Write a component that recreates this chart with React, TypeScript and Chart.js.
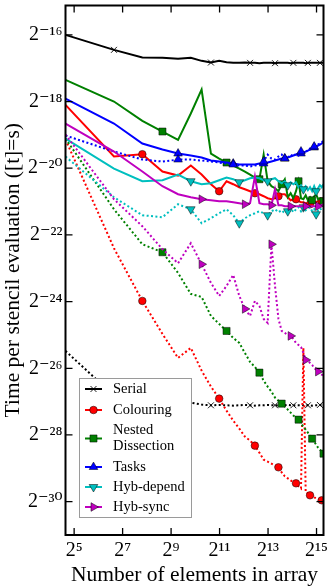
import React, { useEffect, useRef } from 'react';
import { Chart, registerables } from 'chart.js';

Chart.register(...registerables);

// Number of elements in the array (x values)
const elementCounts = [
  25, 100, 225, 400, 625, 900, 1225, 1600, 2025, 2500, 3025, 3600, 4225, 4900, 5625, 6400,
  7225, 8100, 9025, 10000, 11025, 12100, 13225, 14400, 15625, 16900, 18225, 19600, 21025,
  22500, 24025, 25600, 27225, 28900, 30625, 32400, 34225, 36100, 38025, 40000,
];

// Tick exponents (powers of two)
const xTickExponents = [5, 7, 9, 11, 13, 15];
const yTickExponents = [-16, -18, -20, -22, -24, -26, -28, -30];

const seriesNames = ['Serial', 'Colouring', 'Nested Dissection', 'Tasks', 'Hyb-depend', 'Hyb-sync'];

// Time per stencil evaluation, stored as log2(seconds); solid and dotted variants
const serialSolid = [
  -16.0, -16.45, -16.68, -16.69, -16.72, -16.69, -16.78, -16.83, -16.78, -16.82, -16.84, -16.84,
  -16.83, -16.84, -16.84, -16.85, -16.84, -16.84, -16.84, -16.85, -16.84, -16.84, -16.84, -16.84,
  -16.85, -16.84, -16.84, -16.84, -16.84, -16.84, -16.85, -16.84, -16.84, -16.84, -16.84, -16.84,
  -16.84, -16.84, -16.84, -16.84,
];
const serialDotted = [
  -25.48, -26.82, -27.0, -27.03, -27.06, -27.03, -27.09, -27.11, -27.1, -27.11, -27.12, -27.11,
  -27.1, -27.11, -27.12, -27.11, -27.11, -27.1, -27.11, -27.11, -27.12, -27.11, -27.11, -27.1,
  -27.11, -27.11, -27.12, -27.11, -27.11, -27.11, -27.1, -27.11, -27.11, -27.12, -27.11, -27.11,
  -27.11, -27.1, -27.11, -27.11,
];
const colouringSolid = [
  -18.1, -19.65, -19.58, -20.1, -20.22, -19.92, -20.19, -20.48, -20.69, -20.39, -20.48, -20.57,
  -20.63, -20.69, -20.75, -20.78, -20.84, -20.9, -20.93, -20.9, -20.84, -20.78, -20.78, -20.87,
  -20.96, -20.93, -20.93, -20.99, -21.02, -21.02, -21.05, -21.08, -21.08, -21.05, -21.02, -21.02,
  -20.99, -21.02, -20.99, -20.99,
];
const colouringDotted = [
  -19.14, -22.4, -23.98, -24.97, -25.69, -25.39, -26.07, -26.55, -26.91, -27.27, -27.57, -27.81,
  -28.05, -28.17, -28.32, -28.53, -28.74, -28.8, -28.86, -28.92, -28.97, -29.12, -29.24, -29.3,
  -29.36, -29.42, -29.45, -29.54, -29.6, -25.39, -29.72, -29.75, -29.81, -29.84, -29.87, -29.9,
  -29.93, -29.96, -29.96, -29.99,
];
const nestedSolid = [
  -17.35, -18.0, -18.58, -18.9, -19.15, -18.36, -17.64, -19.56, -19.71, -19.83, -19.92, -20.01,
  -20.1, -20.19, -20.28, -20.33, -19.59, -20.39, -20.54, -20.6, -20.69, -20.48, -20.33, -20.87,
  -20.75, -20.9, -20.69, -20.39, -20.9, -20.93, -20.81, -20.96, -20.87, -20.96, -20.84, -20.78,
  -20.93, -20.9, -20.96, -20.99,
];
const nestedDotted = [
  -19.11, -21.23, -22.28, -22.52, -23.14, -23.77, -23.86, -24.43, -24.67, -24.88, -25.09, -25.24,
  -25.54, -25.81, -25.96, -26.13, -26.37, -26.55, -26.7, -26.88, -26.97, -27.06, -27.15, -27.24,
  -27.33, -27.42, -27.48, -27.54, -27.66, -27.75, -27.84, -27.93, -28.02, -28.11, -28.2, -28.29,
  -28.38, -28.44, -28.5, -28.56,
];
const tasksSolid = [
  -17.91, -18.66, -19.26, -19.44, -19.56, -19.62, -19.68, -19.77, -19.8, -19.83, -19.86, -19.89,
  -19.89, -19.89, -19.89, -19.86, -19.86, -19.83, -19.8, -19.77, -19.74, -19.71, -19.71, -19.68,
  -19.65, -19.62, -19.59, -19.56, -19.56, -19.53, -19.5, -19.47, -19.44, -19.41, -19.38, -19.35,
  -19.32, -19.29, -19.26, -19.2,
];
const tasksDotted = [
  -19.02, -19.5, -19.74, -19.8, -19.74, -19.74, -19.77, -19.8, -19.83, -19.86, -19.89, -19.92,
  -19.92, -19.95, -19.92, -19.89, -19.8, -19.59, -19.71, -19.74, -19.65, -19.59, -19.71, -19.68,
  -19.59, -19.65, -19.56, -19.62, -19.5, -19.56, -19.47, -19.5, -19.41, -19.44, -19.35, -19.38,
  -19.29, -19.26, -19.23, -19.17,
];
const hybDependSolid = [
  -19.11, -20.01, -20.39, -20.36, -20.19, -20.39, -20.48, -20.45, -20.36, -20.28, -20.33, -20.42,
  -20.36, -20.3, -20.28, -20.3, -20.36, -20.39, -20.33, -20.3, -20.39, -20.45, -20.39, -20.51,
  -20.42, -20.48, -20.42, -20.57, -20.51, -20.63, -20.54, -20.66, -20.57, -20.69, -20.54, -20.69,
  -20.6, -20.51, -20.57, -20.48,
];
const hybDependDotted = [
  -19.65, -20.87, -21.41, -21.47, -21.08, -21.23, -21.65, -21.5, -21.35, -21.23, -21.41, -21.65,
  -21.5, -21.41, -21.35, -21.29, -21.35, -21.41, -21.29, -21.23, -21.32, -21.26, -21.35, -21.29,
  -21.2, -21.32, -21.23, -21.17, -21.29, -21.17, -21.26, -21.2, -21.17, -21.29, -21.23, -21.38,
  -21.26, -21.2, -21.26, -21.23,
];
const hybSyncSolid = [
  -18.66, -19.5, -20.1, -20.54, -20.78, -20.87, -20.93, -20.96, -20.99, -20.99, -21.02, -21.05,
  -21.08, -21.05, -20.25, -21.05, -21.08, -21.08, -21.11, -20.63, -21.11, -21.11, -21.14, -21.14,
  -21.14, -21.14, -21.14, -21.14, -21.14, -21.14, -21.14, -21.14, -21.14, -21.14, -21.14, -21.14,
  -21.14, -21.11, -21.11, -21.08,
];
const hybSyncDotted = [
  -18.99, -20.93, -21.74, -22.43, -22.85, -22.25, -22.88, -23.44, -23.83, -23.53, -23.2, -23.83,
  -24.22, -24.43, -23.98, -24.13, -24.52, -24.64, -22.28, -23.53, -24.52, -24.88, -24.94, -25.0,
  -25.03, -25.12, -25.24, -25.3, -25.36, -25.54, -25.75, -25.78, -25.84, -25.9, -25.99, -26.04,
  -26.1, -26.16, -26.19, -26.22,
];

const SERIF = '"Liberation Serif", "DejaVu Serif", serif';

const SUP: Record<string, string> = {
  '0': '\u2070', '1': '\u00B9', '2': '\u00B2', '3': '\u00B3', '4': '\u2074',
  '5': '\u2075', '6': '\u2076', '7': '\u2077', '8': '\u2078', '9': '\u2079', '-': '\u207B',
};
const powLabel = (e: number) => '2' + String(e).split('').map((c) => SUP[c] || c).join('');

type Series = {
  label: string; color: string; style: string; rot: number; r: number;
  solid: number[]; dotted: number[];
};

function drawMarker(ctx: CanvasRenderingContext2D, s: Series, x: number, y: number) {
  ctx.save();
  ctx.translate(x, y);
  ctx.fillStyle = s.color;
  ctx.strokeStyle = '#000';
  ctx.lineWidth = s.style === 'crossRot' ? 0.9 : 0.5;
  ctx.beginPath();
  const r = s.r;
  if (s.style === 'circle') {
    ctx.arc(0, 0, r, 0, Math.PI * 2);
    ctx.fill(); ctx.stroke();
  } else if (s.style === 'rect') {
    const h = r * Math.SQRT1_2;
    ctx.rect(-h, -h, 2 * h, 2 * h);
    ctx.fill(); ctx.stroke();
  } else if (s.style === 'triangle') {
    let a = (s.rot * Math.PI) / 180;
    ctx.moveTo(Math.sin(a) * r, -Math.cos(a) * r);
    a += (2 * Math.PI) / 3;
    ctx.lineTo(Math.sin(a) * r, -Math.cos(a) * r);
    a += (2 * Math.PI) / 3;
    ctx.lineTo(Math.sin(a) * r, -Math.cos(a) * r);
    ctx.closePath();
    ctx.fill(); ctx.stroke();
  } else {
    const d = r * Math.SQRT1_2;
    ctx.moveTo(-d, -d); ctx.lineTo(d, d);
    ctx.moveTo(-d, d); ctx.lineTo(d, -d);
    ctx.stroke();
  }
  ctx.restore();
}

export default function App() {
  const ref = useRef<HTMLCanvasElement>(null);

  useEffect(() => {
    if (!ref.current) return;
    const series: Series[] = [
      { label: seriesNames[0], color: '#000000', style: 'crossRot', rot: 0, r: 4.2, solid: serialSolid, dotted: serialDotted },
      { label: seriesNames[1], color: '#ff0000', style: 'circle', rot: 0, r: 3.8, solid: colouringSolid, dotted: colouringDotted },
      { label: seriesNames[2], color: '#008000', style: 'rect', rot: 0, r: 5, solid: nestedSolid, dotted: nestedDotted },
      { label: seriesNames[3], color: '#0000ff', style: 'triangle', rot: 0, r: 5, solid: tasksSolid, dotted: tasksDotted },
      { label: seriesNames[4], color: '#00bfbf', style: 'triangle', rot: 180, r: 5, solid: hybDependSolid, dotted: hybDependDotted },
      { label: seriesNames[5], color: '#bf00bf', style: 'triangle', rot: 90, r: 5, solid: hybSyncSolid, dotted: hybSyncDotted },
    ];

    const datasets: any[] = [];
    series.forEach((s, i) => {
      const start = i + 1;
      [s.solid, s.dotted].forEach((vals, d) => {
        const radius = (c: any) => {
          const j = c.dataIndex;
          return j >= start && (j - start) % 6 === 0 ? s.r : 0;
        };
        datasets.push({
          label: s.label + (d ? ' (dotted)' : ''),
          data: vals.map((v, j) => ({ x: elementCounts[j], y: Math.pow(2, v) })),
          borderColor: s.color,
          backgroundColor: s.color,
          borderWidth: 2,
          borderDash: d ? [2, 2.4] : [],
          pointStyle: s.style,
          pointRotation: s.rot,
          pointRadius: radius,
          pointHoverRadius: radius,
          pointBackgroundColor: s.color,
          pointBorderColor: '#000',
          pointBorderWidth: s.style === 'crossRot' ? 0.9 : 0.5,
          tension: 0,
          clip: 0,
          order: 100 - datasets.length,
        });
      });
    });

    const framePlugin = {
      id: 'frameTicks',
      afterDatasetsDraw(chart: any) {
        const { ctx, chartArea } = chart;
        const { left, right, top, bottom } = chartArea;
        const xs = chart.scales.x;
        const ys = chart.scales.y;
        ctx.save();
        ctx.strokeStyle = '#000';
        ctx.lineWidth = 1.3;
        ctx.beginPath();
        xs.ticks.forEach((t: any) => {
          const px = xs.getPixelForValue(t.value);
          ctx.moveTo(px, bottom); ctx.lineTo(px, bottom - 7);
          ctx.moveTo(px, top); ctx.lineTo(px, top + 7);
        });
        ys.ticks.forEach((t: any) => {
          const py = ys.getPixelForValue(t.value);
          ctx.moveTo(left, py); ctx.lineTo(left + 7, py);
          ctx.moveTo(right, py); ctx.lineTo(right - 7, py);
        });
        ctx.stroke();
        ctx.lineWidth = 2;
        ctx.strokeRect(left, top, right - left, bottom - top);
        ctx.restore();
      },
    };

    const legendRows = [389, 410, 438.5, 467, 487, 507];
    const legendPlugin = {
      id: 'boxLegend',
      afterDraw(chart: any) {
        const ctx: CanvasRenderingContext2D = chart.ctx;
        ctx.save();
        ctx.fillStyle = '#ffffff';
        ctx.strokeStyle = '#9a9a9a';
        ctx.lineWidth = 1;
        ctx.fillRect(79.5, 378.5, 112, 139);
        ctx.strokeRect(79.5, 378.5, 112, 139);
        ctx.font = `14.5px ${SERIF}`;
        ctx.textBaseline = 'middle';
        ctx.textAlign = 'left';
        series.forEach((s, i) => {
          const y = legendRows[i];
          ctx.strokeStyle = s.color;
          ctx.lineWidth = 2;
          ctx.beginPath();
          ctx.moveTo(85, y); ctx.lineTo(102, y);
          ctx.stroke();
          drawMarker(ctx, s, 93.5, y);
          ctx.fillStyle = '#000';
          const lines = s.label.split(' ');
          lines.forEach((ln, k) => {
            ctx.fillText(ln, 113, y + (k - (lines.length - 1) / 2) * 16);
          });
        });
        ctx.restore();
      },
    };

    const chart = new Chart(ref.current, {
      type: 'line',
      data: { datasets },
      plugins: [framePlugin, legendPlugin],
      options: {
        animation: false,
        responsive: false,
        events: [],
        layout: { padding: { top: 3, right: 8.5, left: 0, bottom: 0 } },
        plugins: { legend: { display: false }, tooltip: { enabled: false } },
        scales: {
          x: {
            type: 'logarithmic',
            min: 25,
            max: 40000,
            afterBuildTicks: (sc: any) => {
              sc.ticks = xTickExponents.map((e) => ({ value: Math.pow(2, e) }));
            },
            afterFit: (sc: any) => {
              sc.height = 53;
              sc.paddingLeft = 0;
              sc.paddingRight = 0;
            },
            grid: { display: false, drawTicks: false },
            border: { display: false },
            ticks: {
              autoSkip: false,
              maxRotation: 0,
              minRotation: 0,
              padding: 4,
              color: '#000',
              font: { family: SERIF, size: 20 },
              callback: (v: any) => powLabel(Math.round(Math.log2(Number(v)))),
            },
            title: {
              display: true,
              text: 'Number of elements in array',
              color: '#000',
              font: { family: SERIF, size: 21.5 },
              padding: 0,
            },
          },
          y: {
            type: 'logarithmic',
            min: Math.pow(2, -31.0),
            max: Math.pow(2, -15.12),
            afterBuildTicks: (sc: any) => {
              sc.ticks = yTickExponents.map((e) => ({ value: Math.pow(2, e) }));
            },
            afterFit: (sc: any) => {
              sc.width = 65.5;
              sc.paddingTop = 0;
              sc.paddingBottom = 0;
            },
            grid: { display: false, drawTicks: false },
            border: { display: false },
            ticks: {
              autoSkip: false,
              padding: 3,
              color: '#000',
              font: { family: SERIF, size: 20 },
              callback: (v: any) => powLabel(Math.round(Math.log2(Number(v)))),
            },
            title: {
              display: true,
              text: 'Time per stencil evaluation ([t]=s)',
              color: '#000',
              font: { family: SERIF, size: 21.5 },
              padding: 0,
            },
          },
        },
      } as any,
    });
    return () => chart.destroy();
  }, []);

  return (
    <div style={{ position: 'absolute', left: 0, top: 0, width: 332, height: 588, background: '#fff' }}>
      <canvas ref={ref} width={332} height={588} style={{ display: 'block' }} />
    </div>
  );
}
